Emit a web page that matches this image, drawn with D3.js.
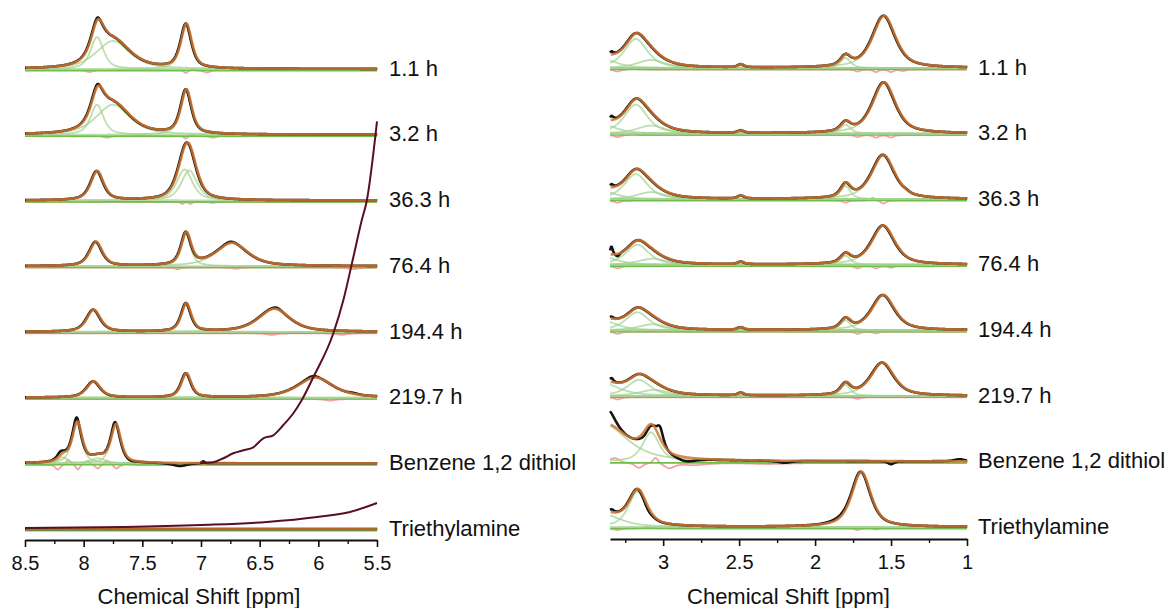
<!DOCTYPE html>
<html>
<head>
<meta charset="utf-8">
<script src="https://cdn.jsdelivr.net/npm/d3@7"></script>
<style>
  body { margin: 0; background: #fff; }
  svg text { font-family: "Liberation Sans", Arial, sans-serif; fill: #111; }
</style>
</head>
<body>
<svg id="chart" width="1172" height="608"></svg>
<script>
const rowLabels = ["1.1 h", "3.2 h", "36.3 h", "76.4 h", "194.4 h", "219.7 h", "Benzene 1,2 dithiol", "Triethylamine"];

// Fitted components per row: [shift (ppm), height, width (ppm)]
const aromaticFit = [
  [[7.886, 32, 0.13], [7.75, 28, 0.34], [7.13, 44, 0.11]],
  [[7.886, 30, 0.13], [7.75, 30, 0.34], [7.13, 44, 0.11]],
  [[7.89, 29, 0.13], [7.14, 31, 0.16], [7.10, 30, 0.16]],
  [[7.90, 24, 0.13], [7.13, 32, 0.1], [6.74, 23, 0.32]],
  [[7.92, 22, 0.14], [7.13, 28, 0.1], [6.38, 23, 0.32]],
  [[7.92, 16, 0.14], [7.13, 24, 0.1], [6.03, 20, 0.36]],
  [[8.18, 6, 0.1], [8.06, 40, 0.1], [7.88, 5, 0.15], [7.73, 38, 0.1]],
  []
];
// measured spectrum minus fit
const aromaticDataExtra = [
  [[7.88, 1.5, 0.04]],
  [[7.88, 1.5, 0.04]],
  [],
  [[6.75, 1, 0.1]],
  [[6.35, 1.5, 0.08]],
  [[6.05, 1.5, 0.1], [5.7, 1, 0.1]],
  [[8.06, 4, 0.04], [8.2, 3, 0.06], [7.74, 2, 0.04], [7.6, -1, 0.08], [7.18, -3, 0.15], [6.98, 2, 0.03]],
  []
];
// fit residuals
const aromaticResidual = [
  [[7.95, -1.5, 0.06], [7.13, -2.5, 0.03], [7.07, 1.5, 0.03], [6.95, -2, 0.06]],
  [[7.80, -1.5, 0.06], [7.13, -2.5, 0.03], [7.07, 1.5, 0.03], [6.9, -1.5, 0.06]],
  [[7.16, -2, 0.03], [7.09, -2, 0.03], [6.9, -1, 0.05]],
  [[7.2, -1.5, 0.05], [6.7, -1, 0.08], [5.7, -1.5, 0.1]],
  [[6.4, -1.5, 0.1], [5.8, -1.5, 0.1]],
  [[5.9, -1.5, 0.1]],
  [[8.22, -5, 0.05], [8.13, 5, 0.05], [8.05, -5, 0.04], [7.97, 4, 0.05], [7.88, -4, 0.05], [7.8, 4, 0.05], [7.72, -4, 0.05], [7.63, 2, 0.05]],
  []
];

const aliphaticFit = [
  [[3.40, 9, 0.22], [3.18, 29, 0.18], [3.08, 8, 0.22], [2.49, 3, 0.05], [1.80, 10, 0.08], [1.55, 52, 0.18]],
  [[3.40, 9, 0.22], [3.18, 29, 0.18], [3.08, 8, 0.22], [2.49, 2.5, 0.05], [1.80, 9, 0.08], [1.55, 51, 0.18]],
  [[3.40, 8, 0.22], [3.18, 25, 0.18], [3.08, 7, 0.22], [2.49, 3, 0.05], [1.80, 13, 0.08], [1.555, 44, 0.18]],
  [[3.40, 8, 0.22], [3.17, 20, 0.18], [3.07, 6, 0.22], [2.49, 2.5, 0.05], [1.80, 9, 0.08], [1.555, 39, 0.18]],
  [[3.40, 10, 0.22], [3.17, 18, 0.18], [3.07, 6, 0.22], [2.49, 2.5, 0.05], [1.80, 10, 0.08], [1.555, 35, 0.18]],
  [[3.42, 14, 0.28], [3.16, 16, 0.18], [3.06, 6, 0.22], [2.49, 2.5, 0.05], [1.80, 11, 0.08], [1.56, 33, 0.18]],
  [[3.40, 38, 0.38], [3.08, 29, 0.13]],
  [[3.40, 13, 0.28], [3.17, 35, 0.14], [1.70, 55, 0.15]]
];
const aliphaticDataExtra = [
  [[3.34, 3, 0.03]],
  [[3.34, 4, 0.03]],
  [[3.34, 3, 0.03], [1.40, 1, 0.05]],
  [[3.34, 8, 0.02], [3.30, -3, 0.03]],
  [[3.34, 2, 0.03]],
  [[3.34, 4, 0.03]],
  [[3.36, 14, 0.1], [3.02, 14, 0.05], [3.12, -6, 0.08], [2.85, -4, 0.15], [2.2, -2, 0.1], [1.5, -3, 0.05], [1.05, 2, 0.08]],
  [[3.34, 3, 0.04], [3.10, -2, 0.06], [1.85, 1.5, 0.15]]
];
const aliphaticResidual = [
  [[3.30, -2, 0.05], [3.2, 1.5, 0.04], [1.72, -2, 0.04], [1.6, -2.5, 0.04], [1.5, -2.5, 0.04], [1.42, -1.5, 0.04]],
  [[3.30, -2, 0.05], [3.2, 1.5, 0.04], [1.72, -2, 0.04], [1.6, -2.5, 0.04], [1.5, -2.5, 0.04]],
  [[3.30, -2, 0.05], [1.80, -2, 0.04], [1.62, 3, 0.04], [1.55, -3, 0.04]],
  [[3.30, -2, 0.05], [1.72, -2, 0.04], [1.6, -2, 0.04], [1.5, -1.5, 0.04]],
  [[3.30, -2, 0.05], [1.72, -2, 0.04], [1.6, -1.5, 0.04]],
  [[3.30, -2, 0.05], [1.72, -1.5, 0.04]],
  [[3.32, 5, 0.08], [3.16, -5, 0.06], [3.05, 6, 0.04], [2.96, -5, 0.08], [2.8, -2, 0.2], [2.3, -1, 0.3]],
  [[3.3, -1.5, 0.06], [3.1, 1.5, 0.05], [1.72, -1.5, 0.04], [1.6, -1, 0.04]]
];

// dark drifting baselines in the aromatic panel: [shift (ppm), intensity]
const benzeneDrift = [[7.008, 0], [6.895, 1], [6.81, 5], [6.725, 10], [6.64, 13], [6.555, 16], [6.469, 25], [6.384, 28],
  [6.30, 38], [6.213, 50], [6.142, 63], [6.043, 86], [5.872, 130], [5.787, 163], [5.702, 206], [5.63, 243], [5.588, 262], [5.5, 342]];
const triethylamineDrift = [[8.5, 1], [7.65, 2], [7.0, 4], [6.44, 7], [6.01, 12], [5.73, 17], [5.5, 26]];

const aromaticTicks = [8.5, 8, 7.5, 7, 6.5, 6, 5.5];
const aromaticMinor = [8.25, 7.75, 7.25, 6.75, 6.25, 5.75];
const aliphaticTicks = [3, 2.5, 2, 1.5, 1];
const aliphaticMinor = [3.25, 2.75, 2.25, 1.75, 1.25];

const svg = d3.select("#chart");

// pseudo-Voigt line shape
const eta = 0.65;
const shape = (x, p) => {
  const u = (x - p[0]) / p[2];
  return p[1] * (eta / (1 + 4 * u * u) + (1 - eta) * Math.exp(-4 * Math.LN2 * u * u));
};
const sumPeaks = (x, peaks) => d3.sum(peaks, p => shape(x, p));

function drawPanel(cfg) {
  const x = d3.scaleLinear().domain(cfg.domain).range(cfg.range);
  const row = d3.scalePoint().domain(rowLabels).range(cfg.rows);
  const amp = d3.scaleLinear().domain([0, 100]).range([0, -100]);
  const grid = d3.range(cfg.domain[0], cfg.domain[1] - 0.0001, -0.004).concat([cfg.domain[1]]);
  const g = svg.append("g");

  rowLabels.forEach((label, i) => {
    const y0 = row(label);
    const line = d3.line().x(d => x(d[0])).y(d => y0 + amp(d[1]));
    const fit = cfg.fit[i], extra = cfg.extra[i], resid = cfg.resid[i];

    // residual
    g.append("path")
      .attr("d", line(grid.map(v => [v, sumPeaks(v, resid)])))
      .attr("transform", "translate(0,1.5)")
      .attr("fill", "none").attr("stroke", "#f4a3a3").attr("stroke-width", 1.8);

    // baseline
    g.append("path")
      .attr("d", line([[cfg.domain[0], 0], [cfg.domain[1], 0]]))
      .attr("transform", "translate(0,1.4)")
      .attr("fill", "none").attr("stroke", "#6fbf4a").attr("stroke-width", 1.6);

    // components
    fit.forEach(p => {
      g.append("path")
        .attr("d", line(grid.map(v => [v, shape(v, p)])))
        .attr("fill", "none").attr("stroke", "#9fd28f").attr("stroke-opacity", 0.7).attr("stroke-width", 1.8);
    });

    // measured
    g.append("path")
      .attr("d", line(grid.map(v => [v, sumPeaks(v, fit) + sumPeaks(v, extra)])))
      .attr("fill", "none").attr("stroke", "#151515").attr("stroke-width", 2.6);

    // fit envelope
    g.append("path")
      .attr("d", line(grid.map(v => [v, sumPeaks(v, fit)])))
      .attr("transform", "translate(0.7,0)")
      .attr("fill", "none").attr("stroke", "#cf7530").attr("stroke-opacity", 0.85).attr("stroke-width", 2.6);

    g.append("text")
      .attr("x", cfg.labelX).attr("y", y0 - 1).attr("dy", "0.35em")
      .attr("font-size", 22).text(label);
  });

  if (cfg.drifts) {
    cfg.drifts.forEach(dr => {
      const y0 = row(rowLabels[dr.row]);
      const line = d3.line().curve(d3.curveMonotoneX).x(d => x(d[0])).y(d => y0 + amp(d[1]));
      g.append("path").datum(dr.points)
        .attr("d", line)
        .attr("fill", "none").attr("stroke", "#5a0f1e").attr("stroke-width", 2);
    });
  }

  const axisY = cfg.axisY;
  const major = d3.axisBottom(x).tickValues(cfg.ticks).tickSizeInner(7).tickSizeOuter(0)
    .tickPadding(9).tickFormat(d3.format(""));
  const ax = g.append("g").attr("transform", `translate(0,${axisY})`).call(major);
  ax.select(".domain").attr("stroke", "#111").attr("stroke-width", 2);
  ax.selectAll(".tick line").attr("stroke", "#111").attr("stroke-width", 1.6);
  ax.selectAll(".tick text").attr("font-size", 20).attr("fill", "#111")
    .style("font-family", "'Liberation Sans', Arial, sans-serif");

  const minor = d3.axisBottom(x).tickValues(cfg.minor).tickSizeInner(4).tickSizeOuter(0).tickFormat("");
  const mx = g.append("g").attr("transform", `translate(0,${axisY})`).call(minor);
  mx.select(".domain").remove();
  mx.selectAll(".tick line").attr("stroke", "#111").attr("stroke-width", 1.4);

  g.append("text")
    .attr("x", (cfg.range[0] + cfg.range[1]) / 2 + cfg.titleShift).attr("y", 604)
    .attr("text-anchor", "middle").attr("font-size", 22)
    .text("Chemical Shift [ppm]");
}

drawPanel({
  domain: [8.5, 5.5], range: [25, 377], rows: [69, 529], axisY: 540,
  fit: aromaticFit, extra: aromaticDataExtra, resid: aromaticResidual,
  ticks: aromaticTicks, minor: aromaticMinor, labelX: 389, titleShift: -2,
  drifts: [{ row: 6, points: benzeneDrift }, { row: 7, points: triethylamineDrift }]
});

drawPanel({
  domain: [3.35, 1.0], range: [610, 967], rows: [68, 527], axisY: 539,
  fit: aliphaticFit, extra: aliphaticDataExtra, resid: aliphaticResidual,
  ticks: aliphaticTicks, minor: aliphaticMinor, labelX: 978, titleShift: 0
});
</script>
</body>
</html>
